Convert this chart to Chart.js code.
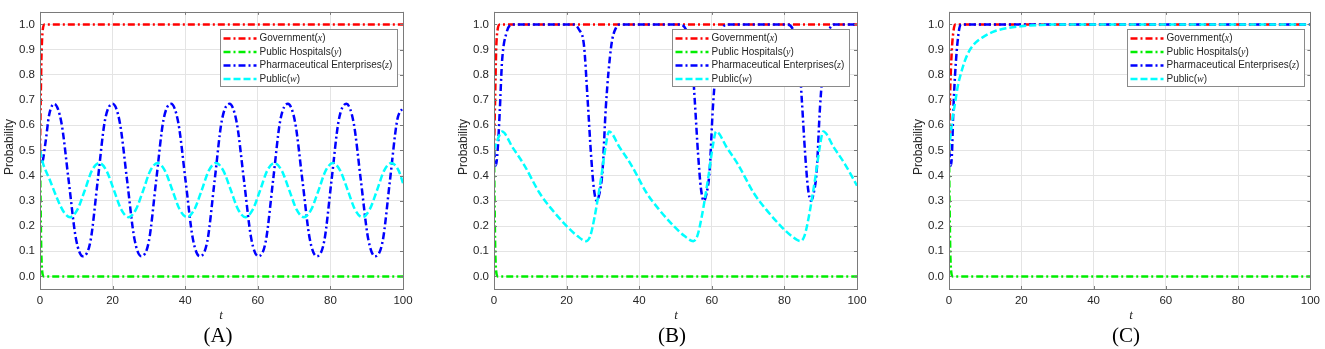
<!DOCTYPE html>
<html>
<head>
<meta charset="utf-8">
<script src="https://cdn.jsdelivr.net/npm/chart.js@4.4.1/dist/chart.umd.min.js"></script>
<style>
  body { margin: 0; background: #fff; width: 1325px; height: 349px; position: relative; overflow: hidden;
         font-family: "Liberation Sans", Arial, sans-serif; }
  canvas { position: absolute; top: 0; }
  .ylab { position: absolute; top: 147px; font-size: 12px; color: #262626; white-space: nowrap;
          transform: translate(-50%, -50%) rotate(-90deg); }
  .tlab { position: absolute; top: 315px; font: italic 13px "Liberation Serif", serif; color: #262626;
          transform: translate(-50%, -50%); }
  .plab { position: absolute; top: 335px; font: 21px "Liberation Serif", serif; color: #000;
          transform: translate(-50%, -50%); }
</style>
</head>
<body>
<canvas id="chA" width="440" height="312" style="left:0"></canvas>
<canvas id="chB" width="440" height="312" style="left:440px"></canvas>
<canvas id="chC" width="445" height="312" style="left:880px"></canvas>
<div class="ylab" style="left:9px">Probability</div>
<div class="ylab" style="left:463px">Probability</div>
<div class="ylab" style="left:918px">Probability</div>
<div class="tlab" style="left:221px">t</div>
<div class="tlab" style="left:676px">t</div>
<div class="tlab" style="left:1131px">t</div>
<div class="plab" style="left:218px">(A)</div>
<div class="plab" style="left:672px">(B)</div>
<div class="plab" style="left:1126px">(C)</div>
<script>
// Evolution of strategy probabilities for the four players, three scenarios.
const tTicks = [0, 20, 40, 60, 80, 100];
const probTicks = [0, 0.1, 0.2, 0.3, 0.4, 0.5, 0.6, 0.7, 0.8, 0.9, 1.0];
const players = ['Government', 'Public Hospitals', 'Pharmaceutical Enterprises', 'Public'];
const playerVars = ['x', 'y', 'z', 'w'];

// (A)
const aGovT = [0, 0.2, 0.4, 0.7, 1.2, 100];
const aGov = [0.5, 0.7, 0.87, 0.97, 1, 1];
const aHospT = [0, 0.15, 0.35, 0.6, 1.0, 100];
const aHosp = [0.5, 0.3, 0.1, 0.02, 0, 0];
const aEntT = [0, 0.5, 1.5, 2.5,
  3.9, 5.9, 7.9, 9.9, 11.8, 13.9, 15.9, 17.9,
  20.0, 22.0, 24.0, 26.0, 27.9, 30.0, 32.0, 34.0,
  36.1, 38.1, 40.1, 42.1, 44.0, 46.1, 48.1, 50.1,
  52.2, 54.2, 56.2, 58.2, 60.1, 62.2, 64.2, 66.2,
  68.3, 70.3, 72.3, 74.3, 76.2, 78.3, 80.3, 82.3,
  84.4, 86.4, 88.4, 90.4, 92.3, 94.4, 96.4, 98.4, 100];
const aEnt = [0.5, 0.45, 0.53, 0.64,
  0.685, 0.61, 0.38, 0.15, 0.08, 0.14, 0.38, 0.62,
  0.685, 0.61, 0.38, 0.15, 0.08, 0.14, 0.38, 0.62,
  0.685, 0.61, 0.38, 0.15, 0.08, 0.14, 0.38, 0.62,
  0.685, 0.61, 0.38, 0.15, 0.08, 0.14, 0.38, 0.62,
  0.685, 0.61, 0.38, 0.15, 0.08, 0.14, 0.38, 0.62,
  0.685, 0.61, 0.38, 0.15, 0.08, 0.14, 0.38, 0.62, 0.67];
const aPubT = [0, 0.8, 2.5, 5, 6.6,
  8.3, 10.3, 12.3, 14.3, 16.3, 18.3, 20.3, 22.4,
  24.4, 26.4, 28.4, 30.4, 32.4, 34.4, 36.4, 38.5,
  40.5, 42.5, 44.5, 46.5, 48.5, 50.5, 52.5, 54.6,
  56.6, 58.6, 60.6, 62.6, 64.6, 66.6, 68.6, 70.7,
  72.7, 74.7, 76.7, 78.7, 80.7, 82.7, 84.7, 86.8,
  88.8, 90.8, 92.8, 94.8, 96.8, 98.8, 100];
const aPub = [0.5, 0.45, 0.39, 0.30, 0.255,
  0.235, 0.265, 0.34, 0.42, 0.45, 0.42, 0.345, 0.265,
  0.235, 0.265, 0.34, 0.42, 0.45, 0.42, 0.345, 0.265,
  0.235, 0.265, 0.34, 0.42, 0.45, 0.42, 0.345, 0.265,
  0.235, 0.265, 0.34, 0.42, 0.45, 0.42, 0.345, 0.265,
  0.235, 0.265, 0.34, 0.42, 0.45, 0.42, 0.345, 0.265,
  0.235, 0.265, 0.34, 0.42, 0.45, 0.42, 0.37];

// (B)
const bGovT = [0, 0.3, 0.6, 1.0, 1.6, 100];
const bGov = [0.5, 0.7, 0.9, 0.98, 1, 1];
const bHospT = [0, 0.15, 0.35, 0.6, 1.0, 100];
const bHosp = [0.5, 0.3, 0.1, 0.02, 0, 0];
const bEntT = [0, 0.5, 1.0, 1.6, 2.2, 3.4, 5.2,
  21.9, 23.4, 24.8, 25.8, 26.7, 27.5, 28.3, 28.9, 29.9, 30.8, 32.3, 33.7, 34.6,
  51.4, 52.9, 54.3, 55.3, 56.2, 57.0, 57.8, 58.4, 59.4, 60.3, 61.8, 63.2, 64.1,
  80.9, 82.4, 83.8, 84.8, 85.7, 86.5, 87.3, 87.9, 88.9, 89.8, 91.3, 92.7, 93.6, 100];
const bEnt = [0.5, 0.44, 0.5, 0.66, 0.85, 0.965, 1.0,
  1.0, 0.98, 0.915, 0.7, 0.49, 0.35, 0.30, 0.32, 0.42, 0.67, 0.915, 0.99, 1.0,
  1.0, 0.98, 0.915, 0.7, 0.49, 0.35, 0.30, 0.32, 0.42, 0.67, 0.915, 0.99, 1.0,
  1.0, 0.98, 0.915, 0.7, 0.49, 0.35, 0.30, 0.32, 0.42, 0.67, 0.915, 0.99, 1.0, 1.0];
const bPubT = [0, 0.8,
  2.2, 5.2, 8.2, 12.6, 16.0, 20.0, 23.0, 25.4, 26.5, 27.7, 29.6, 30.8, 31.7,
  34.7, 37.7, 42.1, 45.5, 49.5, 52.5, 54.9, 56.0, 57.2, 59.1, 60.3, 61.2,
  64.2, 67.2, 71.6, 75.0, 79.0, 82.0, 84.4, 85.5, 86.7, 88.6, 89.8, 90.7,
  93.7, 96.7, 100];
const bPub = [0.5, 0.535,
  0.575, 0.51, 0.445, 0.33, 0.265, 0.2, 0.16, 0.14, 0.16, 0.235, 0.40, 0.52, 0.575,
  0.51, 0.445, 0.33, 0.265, 0.2, 0.16, 0.14, 0.16, 0.235, 0.40, 0.52, 0.575,
  0.51, 0.445, 0.33, 0.265, 0.2, 0.16, 0.14, 0.16, 0.235, 0.40, 0.52, 0.575,
  0.51, 0.445, 0.36];

// (C)
const cGovT = [0, 0.3, 0.75, 1.2, 1.7, 100];
const cGov = [0.5, 0.72, 0.89, 0.97, 1, 1];
const cHospT = [0, 0.15, 0.35, 0.6, 1.0, 100];
const cHosp = [0.5, 0.3, 0.1, 0.02, 0, 0];
const cEntT = [0, 0.5, 0.8, 1.2, 1.9, 2.8, 3.5, 100];
const cEnt = [0.5, 0.44, 0.48, 0.66, 0.85, 0.98, 1, 1];
const cPubT = [0, 0.5, 1.0, 1.7, 2.5, 3.2, 4.5, 5.8, 7.5, 9.4, 12, 15.8, 20, 25, 30, 100];
const cPub = [0.5, 0.57, 0.63, 0.69, 0.76, 0.80, 0.86, 0.90, 0.93, 0.95, 0.97, 0.985, 0.993, 0.998, 1, 1];

const COLORS = ['#ff0000', '#00ee00', '#0000ff', '#00ffff'];
const DASHES = [[7, 3, 2, 3], [7, 3, 2, 3], [7, 3, 2, 3], [7, 3]];
const FRAME = '#7a7a7a';
const INK = '#262626';

const pts = (t, v) => t.map((x, i) => ({ x, y: v[i] }));

// box + inward ticks on all four sides, then the legend on top (MATLAB look)
const boxPlugin = {
  id: 'box',
  afterDatasetsDraw(chart) {
    const { ctx, chartArea: a, scales } = chart;
    ctx.save();
    ctx.strokeStyle = FRAME;
    ctx.lineWidth = 1;
    ctx.beginPath();
    tTicks.forEach(v => {
      const px = Math.round(scales.x.getPixelForValue(v)) + 0.5;
      ctx.moveTo(px, a.bottom); ctx.lineTo(px, a.bottom - 3);
      ctx.moveTo(px, a.top); ctx.lineTo(px, a.top + 3);
    });
    probTicks.forEach(v => {
      const py = Math.round(scales.y.getPixelForValue(v)) + 0.5;
      ctx.moveTo(a.left, py); ctx.lineTo(a.left + 3, py);
      ctx.moveTo(a.right, py); ctx.lineTo(a.right - 3, py);
    });
    ctx.stroke();
    ctx.strokeRect(Math.round(a.left) + 0.5, Math.round(a.top) + 0.5,
                   Math.round(a.right - a.left), Math.round(a.bottom - a.top));
    ctx.restore();
  },
  afterDraw(chart) {
    const { ctx, chartArea: a } = chart;
    const off = chart.options.plugins.box.right;
    const norm = '10px "Liberation Sans", Arial, sans-serif';
    const ital = 'italic 10px "Liberation Serif", serif';
    ctx.save();
    const widths = players.map((p, i) => {
      ctx.font = norm;
      let w = ctx.measureText(p + '(').width + ctx.measureText(')').width;
      ctx.font = ital;
      return w + ctx.measureText(playerVars[i]).width;
    });
    const w = Math.round(Math.max(...widths) + 44), h = 57;
    const x0 = Math.round(a.right - off - w) + 0.5, y0 = Math.round(a.top + 17) + 0.5;
    ctx.fillStyle = '#fff';
    ctx.fillRect(x0, y0, w, h);
    ctx.strokeStyle = '#8a8a8a';
    ctx.lineWidth = 1;
    ctx.strokeRect(x0, y0, w, h);
    players.forEach((p, i) => {
      const y = y0 + 9 + i * 13.5;
      ctx.beginPath();
      ctx.setLineDash(DASHES[i]);
      ctx.strokeStyle = COLORS[i];
      ctx.lineWidth = 2.5;
      ctx.moveTo(x0 + 3, y); ctx.lineTo(x0 + 36, y);
      ctx.stroke();
      ctx.setLineDash([]);
      ctx.fillStyle = INK;
      ctx.textBaseline = 'middle';
      let tx = x0 + 39;
      ctx.font = norm; ctx.fillText(p + '(', tx, y); tx += ctx.measureText(p + '(').width;
      ctx.font = ital; ctx.fillText(playerVars[i], tx, y); tx += ctx.measureText(playerVars[i]).width;
      ctx.font = norm; ctx.fillText(')', tx, y);
    });
    ctx.restore();
  }
};

function panel(id, yWidth, rightPad, legendRight, series) {
  const datasets = series.map((s, i) => ({
    label: players[i],
    data: pts(s[0], s[1]),
    borderColor: COLORS[i],
    borderWidth: 2.5,
    borderDash: DASHES[i],
    pointRadius: 0,
    fill: false,
    cubicInterpolationMode: 'monotone',
    order: 4 - i,
  }));
  const tickFont = { family: '"Liberation Sans", Arial, sans-serif', size: 11.5 };
  return new Chart(document.getElementById(id), {
    type: 'line',
    data: { datasets },
    plugins: [boxPlugin],
    options: {
      responsive: false,
      animation: false,
      devicePixelRatio: 1,
      layout: { padding: { top: 3, right: rightPad, left: 0, bottom: 0 } },
      plugins: { legend: { display: false }, tooltip: { enabled: false }, box: { right: legendRight } },
      scales: {
        x: {
          type: 'linear', min: 0, max: 100,
          afterBuildTicks: s => { s.ticks = tTicks.map(value => ({ value })); },
          afterFit: s => { s.height = 23; },
          grid: { color: '#e4e4e4', drawTicks: false },
          border: { display: false },
          ticks: { color: INK, font: tickFont, padding: 5, maxRotation: 0 },
        },
        y: {
          type: 'linear', min: -0.05, max: 1.05,
          afterBuildTicks: s => { s.ticks = probTicks.map(value => ({ value })); },
          afterFit: s => { s.width = yWidth; },
          grid: { color: '#e4e4e4', drawTicks: false },
          border: { display: false },
          ticks: { color: INK, font: tickFont, padding: 5, callback: v => v.toFixed(1) },
        },
      },
    },
  });
}

panel('chA', 40, 37, 6, [[aGovT, aGov], [aHospT, aHosp], [aEntT, aEnt], [aPubT, aPub]]);
panel('chB', 54, 23, 8, [[bGovT, bGov], [bHospT, bHosp], [bEntT, bEnt], [bPubT, bPub]]);
panel('chC', 69, 13, 6, [[cGovT, cGov], [cHospT, cHosp], [cEntT, cEnt], [cPubT, cPub]]);
</script>
</body>
</html>
